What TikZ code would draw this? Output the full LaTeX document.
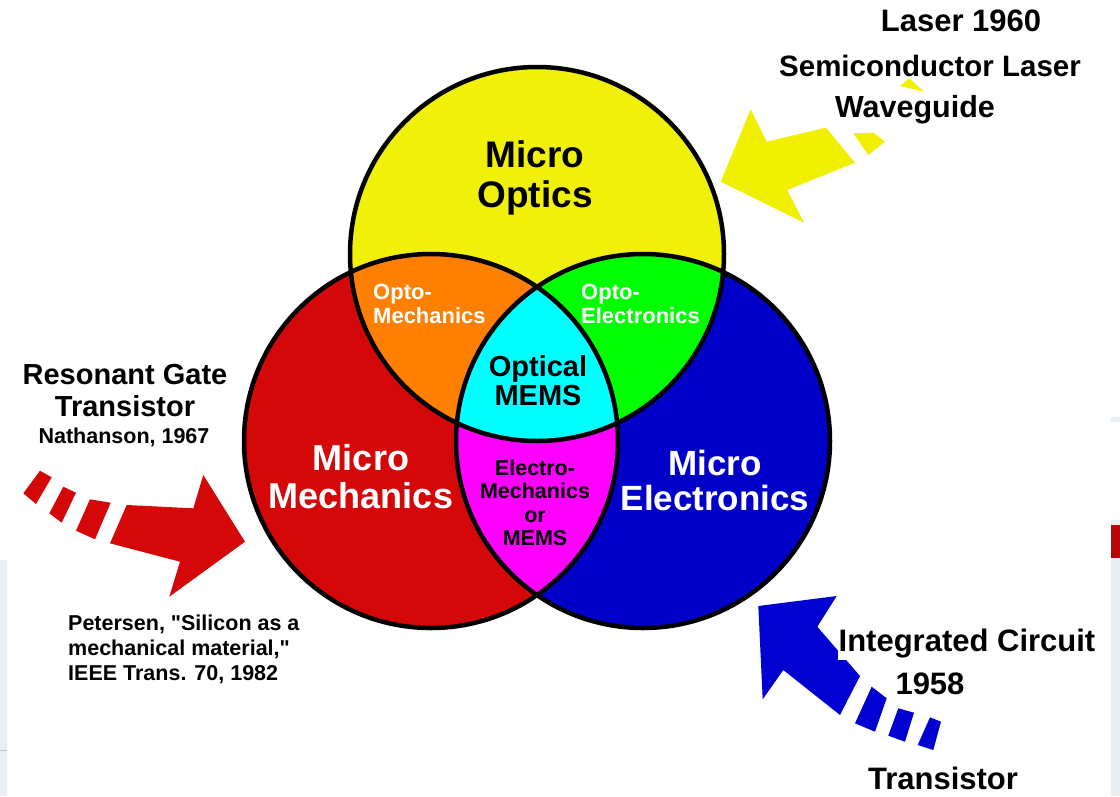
\documentclass[tikz,border=0pt]{standalone}
\usepackage{fontspec}
\setmainfont{Liberation Sans}
\newcommand\dqmark{\XeTeXglyph\XeTeXglyphindex "quotedbl" \relax}
\definecolor{cyel}{RGB}{240,240,10}
\definecolor{cred}{RGB}{212,8,8}
\definecolor{cblue}{RGB}{0,0,200}
\definecolor{corange}{RGB}{255,128,0}
\definecolor{cgreen}{RGB}{0,255,0}
\definecolor{ccyan}{RGB}{0,255,255}
\definecolor{cmag}{RGB}{255,0,255}
\definecolor{ayel}{RGB}{240,240,0}
\definecolor{ablue}{RGB}{0,0,208}
\definecolor{stripL}{RGB}{234,239,249}
\definecolor{stripR}{RGB}{232,238,242}
\tikzset{
  circ/.style={radius=187pt},
  outline/.style={draw=black,line width=4.5pt},
  lbl/.style={inner sep=0pt,align=center},
  bigw/.style={text=white,align=center,inner sep=0pt,font=\bfseries\fontsize{36}{38}\selectfont},
  smallw/.style={text=white,align=left,inner sep=0pt,anchor=west,font=\bfseries\fontsize{22}{24}\selectfont},
  outer/.style={fill=white,inner sep=1pt,align=center},
}
\begin{document}
\begin{tikzpicture}[x=1pt,y=-1pt]
\useasboundingbox (0,0) rectangle (1120,796);
\fill[white] (0,0) rectangle (1120,796);
% background artifacts at the edges
\fill[stripL] (0,560) rectangle (7,796);
\draw[gray!50,line width=1pt] (0,750) -- (7,750);
\fill[stripR] (1111,417) rectangle (1120,796);
\fill[white] (1111,422) rectangle (1120,520);
\fill[cred!85!black] (1111,525) rectangle (1120,558);
% circles
\coordinate (Y) at (537,254);
\coordinate (R) at (431,441);
\coordinate (B) at (643,441);
\fill[cyel] (Y) circle[circ];
\fill[cred] (R) circle[circ];
\fill[cblue] (B) circle[circ];
\begin{scope}
  \clip (R) circle[circ];
  \fill[cmag] (B) circle[circ];
\end{scope}
\begin{scope}
  \clip (Y) circle[circ];
  \fill[corange] (R) circle[circ];
  \fill[cgreen] (B) circle[circ];
  \clip (R) circle[circ];
  \fill[ccyan] (B) circle[circ];
\end{scope}
\draw[outline] (Y) circle[circ];
\draw[outline] (R) circle[circ];
\draw[outline] (B) circle[circ];
% yellow arrow
\fill[ayel] (720.7,181.7) -- (750.7,109.3) -- (766.7,141.7) -- (826,127.7) -- (855,162.7) -- (787.3,190) -- (804,222.7) -- cycle;
\fill[ayel] (853.3,133.3) -- (873.3,132.7) -- (885,141.7) -- (868.3,155) -- cycle;
\fill[ayel] (900,86) -- (909.3,78.3) -- (924,91.7) -- cycle;
% red arrow
\fill[cred] (245,541.7) -- (203.3,475) -- (193.3,508.3) -- (126.7,505) -- (110,543.3) -- (180,561.7) -- (169.3,596.7) -- cycle;
\fill[cred] (90,499.3) -- (110.7,502.7) -- (95,539.3) -- (76,530.7) -- cycle;
\fill[cred] (63.3,486.7) -- (76,492.7) -- (61.7,522.7) -- (49.3,513.3) -- cycle;
\fill[cred] (40,470.7) -- (51.7,477.3) -- (36,504) -- (23.3,493.3) -- cycle;
% blue arrow
\fill[ablue] (758.3,606) -- (836.7,596) -- (817.3,626.7) -- (860,676) -- (840,715) -- (783.3,670) -- (762.7,699.3) -- cycle;
\fill[ablue] (871.7,686.7) -- (886.7,698.3) -- (875,731.7) -- (855,723.3) -- cycle;
\fill[ablue] (898.3,708.3) -- (914,712.7) -- (905,741.7) -- (888.3,735.7) -- cycle;
\fill[ablue] (930,717.3) -- (941,721.7) -- (933.3,750) -- (917.7,745) -- cycle;
% region labels
\node[lbl,font=\bfseries\fontsize{37}{40}\selectfont] (optics) at (535,178) {Micro\\Optics};
\node[bigw] (mech) at (361,477) {Micro\\Mechanics};
\node[bigw,font=\bfseries\fontsize{35}{35}\selectfont] (elec) at (715,480) {Micro\\Electronics};
\node[smallw] (optomech) at (373,304) {Opto-\\Mechanics};
\node[smallw] (optoelec) at (581,304) {Opto-\\Electronics};
\node[lbl,font=\bfseries\fontsize{29}{29}\selectfont] (omems) at (538,381) {Optical\\MEMS};
\node[lbl,font=\bfseries\fontsize{21.5}{23.5}\selectfont] (emems) at (535,503) {Electro-\\Mechanics\\or\\MEMS};
% outside labels
\node[outer,font=\bfseries\fontsize{31}{31}\selectfont] (laser) at (961,21) {Laser 1960};
\node[outer,inner sep=0pt,font=\bfseries\fontsize{29.5}{29.5}\selectfont] (semi) at (930,66) {Semiconductor Laser};
\node[outer,font=\bfseries\fontsize{30.5}{30.5}\selectfont] (wave) at (915,110) {Waveguide};
\node[outer,font=\bfseries\fontsize{29}{32}\selectfont] (rgt) at (125,391) {Resonant Gate\\Transistor};
\node[outer,font=\bfseries\fontsize{21.5}{21.5}\selectfont] (nath) at (124,437) {Nathanson, 1967};
\node[outer,anchor=west,align=left,font=\bfseries\fontsize{21.5}{25}\selectfont] (pet) at (67,649) {Petersen, \dqmark Silicon as a\\mechanical material,\dqmark\\IEEE Trans. 70, 1982};
\node[outer,font=\bfseries\fontsize{31}{31}\selectfont] (ic) at (967,644) {Integrated Circuit};
\node[outer,font=\bfseries\fontsize{31}{31}\selectfont] (y58) at (930,684) {1958};
\node[lbl,font=\bfseries\fontsize{31}{31}\selectfont] (trans) at (943,778) {Transistor};
\end{tikzpicture}
\end{document}
